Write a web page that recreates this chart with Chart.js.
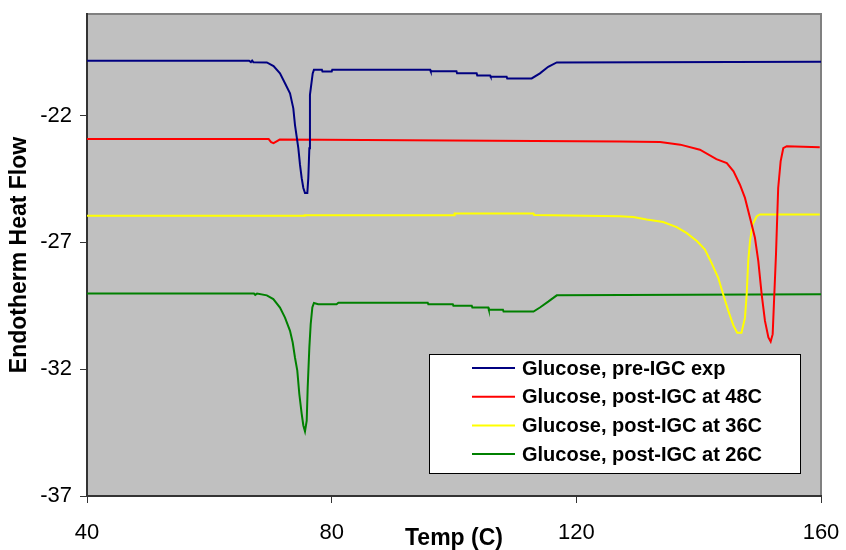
<!DOCTYPE html>
<html>
<head>
<meta charset="utf-8">
<script src="https://cdn.jsdelivr.net/npm/chart.js@4.4.1/dist/chart.umd.min.js"></script>
<style>
  body { margin: 0; background: #fff; }
  canvas { display: block; }
</style>
</head>
<body>
<canvas id="dscChart" width="846" height="550"></canvas>
<script>
// tick values
var xTicks = [40, 80, 120, 160];
var yTicks = [-37, -32, -27, -22];

var seriesNames = [
  'Glucose, pre-IGC exp',
  'Glucose, post-IGC at 48C',
  'Glucose, post-IGC at 36C',
  'Glucose, post-IGC at 26C'
];

// pre-IGC exp
var preTemp = [40, 66.5, 66.8, 67.0, 67.2, 69.4, 70.5, 71.55, 72.37, 73.19, 73.73, 74.0, 74.55, 74.82, 75.1, 75.37, 75.64,
  76.02, 76.18, 76.35, 76.45, 76.9, 77.1, 78.4, 78.5, 80.0, 80.1, 96.1, 96.2, 100.4, 100.5, 103.7, 103.8, 105.9, 106.0,
  108.6, 108.7, 112.7, 114.05, 115.4, 116.8, 160];
var preFlow = [-19.84, -19.84, -19.9, -19.84, -19.9, -19.91, -20.05, -20.34, -20.73, -21.13, -21.72, -22.37, -23.29, -23.94, -24.47, -24.86, -25.06,
  -25.06, -24.47, -23.29, -21.19, -20.34, -20.2, -20.2, -20.27, -20.27, -20.2, -20.2, -20.26, -20.26, -20.34, -20.34, -20.42, -20.42, -20.47,
  -20.47, -20.54, -20.54, -20.34, -20.08, -19.91, -19.88];

// post-IGC at 48C
var t48Temp = [40, 69.7, 70.1, 70.5, 71.0, 71.5, 127.1, 133.7, 137.0, 140.2, 142.9, 144.6, 145.7, 146.75, 147.57, 148.4, 149.2, 149.75,
  150.3, 150.84, 151.4, 151.77, 152.1, 152.3, 152.64, 153.0, 153.4, 153.83, 154.4, 159.8];
var t48Flow = [-22.93, -22.93, -23.05, -23.09, -23.02, -22.95, -23.03, -23.05, -23.15, -23.35, -23.72, -23.88, -24.2, -24.73, -25.25, -26.04, -26.82, -27.74,
  -29.05, -30.1, -30.75, -30.91, -30.62, -29.44, -27.48, -24.86, -23.81, -23.29, -23.21, -23.25];

// post-IGC at 36C
var t36Temp = [40, 75.5, 75.6, 100.0, 100.1, 113.0, 113.1, 127.1, 129.3, 131.5, 134.2, 136.4, 138.0, 139.7, 141.0, 142.1, 143.2, 144.0,
  144.85, 145.7, 146.3, 147.0, 147.57, 147.85, 148.1, 148.4, 148.8, 149.5, 150.0, 159.8];
var t36Flow = [-25.95, -25.95, -25.93, -25.93, -25.86, -25.86, -25.92, -25.97, -26.0, -26.1, -26.2, -26.4, -26.63, -26.95, -27.28, -27.81, -28.4, -29.05,
  -29.7, -30.29, -30.56, -30.56, -29.97, -29.05, -27.74, -26.95, -26.3, -25.97, -25.9, -25.9];

// post-IGC at 26C
var t26Temp = [40, 67.3, 67.5, 67.8, 69.4, 70.46, 71.55, 72.37, 73.19, 73.63, 74.0, 74.38, 74.71, 75.1, 75.37, 75.64, 75.92, 76.08,
  76.35, 76.57, 76.84, 77.1, 77.8, 80.8, 81.1, 95.7, 95.8, 99.8, 99.9, 102.9, 103.0, 105.6, 105.7, 108.0, 108.1, 113.0,
  114.05, 115.4, 116.8, 160];
var t26Flow = [-29.02, -29.02, -29.07, -29.02, -29.09, -29.24, -29.57, -29.97, -30.49, -30.95, -31.54, -32.06, -32.98, -33.76, -34.22, -34.45, -34.03, -32.72,
  -31.15, -30.23, -29.57, -29.39, -29.44, -29.44, -29.38, -29.38, -29.44, -29.44, -29.5, -29.5, -29.57, -29.57, -29.66, -29.66, -29.73, -29.73,
  -29.57, -29.34, -29.09, -29.05];

var seriesColors = ['#000080', '#FF0000', '#FFFF00', '#008000'];

function toPoints(xs, ys) {
  return xs.map(function (x, i) { return { x: x, y: ys[i] }; });
}

var allTemps = [preTemp, t48Temp, t36Temp, t26Temp];
var allFlows = [preFlow, t48Flow, t36Flow, t26Flow];

// gray plot area + border
var plotBackground = {
  id: 'plotBackground',
  beforeDraw: function (chart) {
    var a = chart.chartArea, ctx = chart.ctx;
    ctx.save();
    ctx.fillStyle = '#C0C0C0';
    ctx.fillRect(a.left, a.top, a.right - a.left, a.bottom - a.top);
    ctx.strokeStyle = '#808080';
    ctx.lineWidth = 2;
    ctx.strokeRect(a.left, a.top, a.right - a.left, a.bottom - a.top);
    ctx.restore();
  }
};

// legend box inside the plot
var boxLegend = {
  id: 'boxLegend',
  afterDraw: function (chart) {
    var ctx = chart.ctx;
    var bx = 429, by = 354, bw = 371, bh = 119;
    ctx.save();
    ctx.fillStyle = '#fff';
    ctx.fillRect(bx, by, bw, bh);
    ctx.strokeStyle = '#000';
    ctx.lineWidth = 1;
    ctx.strokeRect(bx + 0.5, by + 0.5, bw, bh);
    ctx.font = 'bold 20px "Liberation Sans", Arial, sans-serif';
    ctx.textBaseline = 'middle';
    ctx.fillStyle = '#000';
    chart.data.datasets.forEach(function (ds, i) {
      var y = 368 + i * 28.7;
      ctx.strokeStyle = ds.borderColor;
      ctx.lineWidth = 2;
      ctx.beginPath();
      ctx.moveTo(472, y);
      ctx.lineTo(515, y);
      ctx.stroke();
      ctx.fillText(ds.label, 522, y + 1);
    });
    ctx.restore();
  }
};

function noScalePadding(scale) {
  scale.paddingTop = 0;
  scale.paddingBottom = 0;
  scale.paddingLeft = 0;
  scale.paddingRight = 0;
}

var ctx = document.getElementById('dscChart');
var dscChart = new Chart(ctx, {
  type: 'line',
  data: {
    datasets: seriesNames.map(function (name, i) {
      return {
        label: name,
        data: toPoints(allTemps[i], allFlows[i]),
        borderColor: seriesColors[i],
        backgroundColor: seriesColors[i],
        borderWidth: 2,
        pointRadius: 0,
        tension: 0,
        fill: false
      };
    })
  },
  options: {
    responsive: false,
    animation: false,
    events: [],
    layout: {
      padding: { top: 14, right: 25, bottom: 0, left: 0 }
    },
    plugins: {
      legend: { display: false },
      tooltip: { enabled: false }
    },
    scales: {
      x: {
        type: 'linear',
        min: 40,
        max: 160,
        afterBuildTicks: function (scale) {
          scale.ticks = xTicks.map(function (v) { return { value: v }; });
        },
        afterFit: function (scale) {
          scale.height = 54;
          noScalePadding(scale);
        },
        grid: { display: true, drawOnChartArea: false, color: '#333', tickLength: 7, tickWidth: 1 },
        border: { display: true, color: '#333', width: 2 },
        ticks: {
          color: '#000',
          padding: 17,
          maxRotation: 0,
          font: { family: '"Liberation Sans", Arial, sans-serif', size: 22 }
        },
        title: {
          display: true,
          text: 'Temp (C)',
          color: '#000',
          font: { family: '"Liberation Sans", Arial, sans-serif', size: 23, weight: 'bold', lineHeight: 1 },
          padding: { top: 0, bottom: 0 }
        }
      },
      y: {
        min: -37,
        max: -18,
        afterBuildTicks: function (scale) {
          scale.ticks = yTicks.map(function (v) { return { value: v }; });
        },
        afterFit: function (scale) {
          scale.width = 87;
          noScalePadding(scale);
        },
        grid: { display: true, drawOnChartArea: false, color: '#333', tickLength: 7, tickWidth: 1 },
        border: { display: true, color: '#333', width: 2 },
        ticks: {
          color: '#000',
          padding: 8,
          font: { family: '"Liberation Sans", Arial, sans-serif', size: 22 }
        },
        title: {
          display: true,
          text: 'Endotherm Heat Flow',
          color: '#000',
          font: { family: '"Liberation Sans", Arial, sans-serif', size: 23, weight: 'bold', lineHeight: 1 },
          padding: { top: 8, bottom: 0 }
        }
      }
    }
  },
  plugins: [plotBackground, boxLegend]
});
</script>
</body>
</html>
